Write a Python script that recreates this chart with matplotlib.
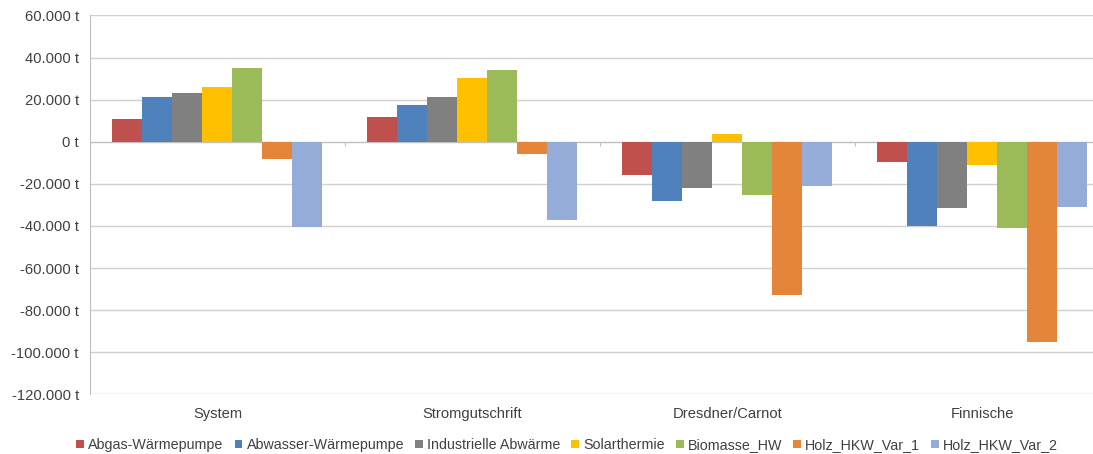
import numpy as np
import matplotlib
matplotlib.use("Agg")
import matplotlib.pyplot as plt
from matplotlib.ticker import FuncFormatter

# Kategorien und Reihen (Werte in Tonnen)
kategorien = ["System", "Stromgutschrift", "Dresdner/Carnot", "Finnische"]
reihen = ["Abgas-Wärmepumpe", "Abwasser-Wärmepumpe", "Industrielle Abwärme",
          "Solarthermie", "Biomasse_HW", "Holz_HKW_Var_1", "Holz_HKW_Var_2"]

abgas_wp = [10800, 11600, -15800, -9500]
abwasser_wp = [21400, 17700, -28100, -40000]
industrie_abwaerme = [23000, 21400, -22100, -31600]
solarthermie = [25800, 30100, 3600, -10900]
biomasse_hw = [35100, 33900, -25400, -41100]
holz_hkw_1 = [-8400, -5800, -72600, -94900]
holz_hkw_2 = [-40300, -37200, -20900, -31100]

werte = [abgas_wp, abwasser_wp, industrie_abwaerme, solarthermie,
         biomasse_hw, holz_hkw_1, holz_hkw_2]
farben = ["#C0504D", "#4F81BD", "#808080", "#FFC000",
          "#9BBB59", "#E5853A", "#95ACD9"]

plt.rcParams["font.family"] = ["Liberation Sans", "DejaVu Sans"]
fs = 10.6

fig = plt.figure(figsize=(10.93, 4.54), dpi=100)
# Diagrammfläche reicht rechts etwas über den Bildrand hinaus
ax = fig.add_axes([0.0823, 0.1313, 0.9332, 0.8346])

n = len(reihen)
breite = 1.0 / (n + 1.5)
x = np.arange(len(kategorien))
for i, (name, v, c) in enumerate(zip(reihen, werte, farben)):
    ax.bar(x + (i - (n - 1) / 2) * breite, v, width=breite, color=c,
           label=name, zorder=3)

ax.set_xlim(-0.5, len(kategorien) - 0.5)
ax.set_ylim(-120000, 60000)
ax.set_yticks(np.arange(-120000, 60001, 20000))
ax.yaxis.set_major_formatter(
    FuncFormatter(lambda v, p: f"{v:,.0f} t".replace(",", ".")))
ax.tick_params(axis="y", length=0, pad=8, labelsize=fs, labelcolor="#404040")
ax.grid(axis="y", color="#D0D0D0", linewidth=1, zorder=0)

# Rubrikenachse liegt auf der Nulllinie
for s in ["top", "right"]:
    ax.spines[s].set_visible(False)
ax.spines["left"].set_color("#BFBFBF")
ax.spines["bottom"].set_position(("data", 0))
ax.spines["bottom"].set_color("#BFBFBF")
ax.spines["bottom"].set_zorder(2)
ax.set_xticks(x[:-1] + 0.5)
ax.set_xticklabels([])
ax.tick_params(axis="x", length=3, color="#BFBFBF", direction="out")

for xi, k in zip(x, kategorien):
    ax.text(xi, -0.052, k, transform=ax.get_xaxis_transform(),
            ha="center", va="center", fontsize=fs, color="#404040")

fig.legend(loc="center", bbox_to_anchor=(0.519, 0.02), ncol=n, frameon=False,
           fontsize=10.3, handlelength=0.55, handleheight=0.55, handletextpad=0.3,
           columnspacing=0.75, labelcolor="#404040", borderpad=0.2)

fig.savefig("out.png", dpi=100)
